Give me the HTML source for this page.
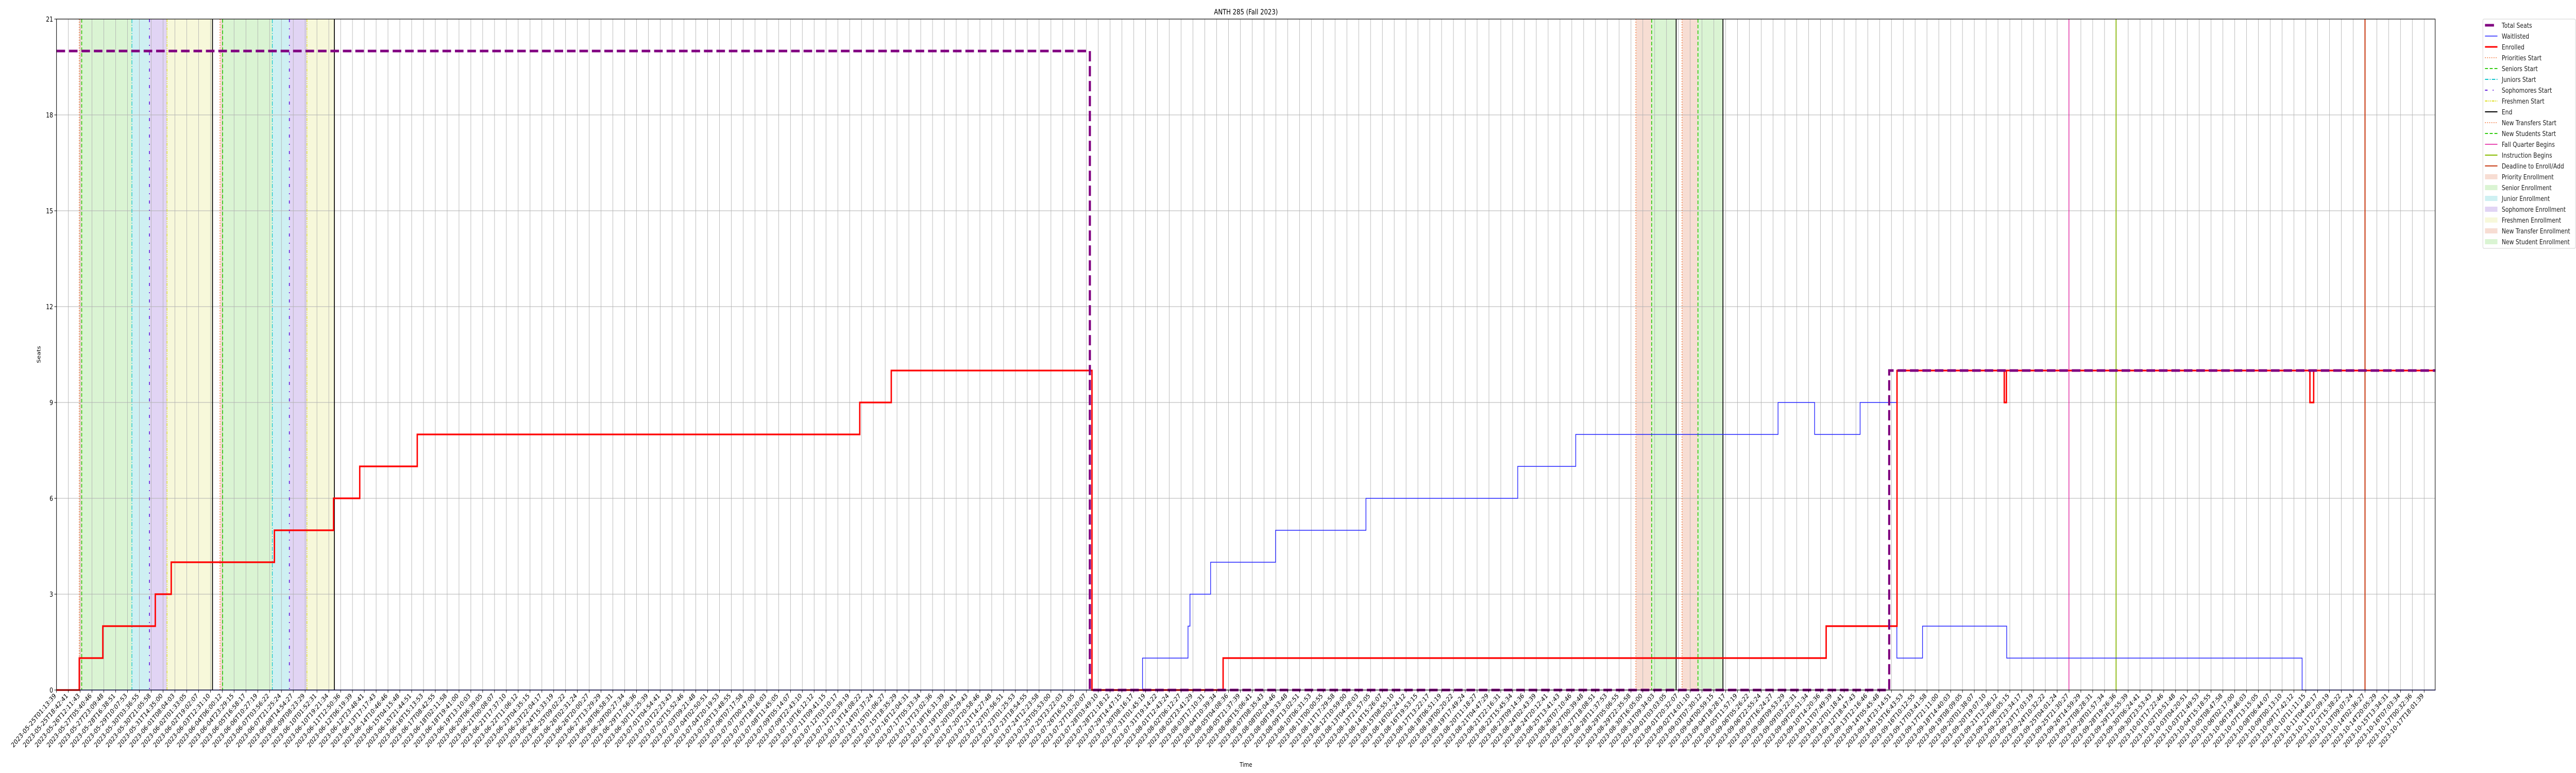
<!DOCTYPE html>
<html><head><meta charset="utf-8">
<style>
html,body{margin:0;padding:0;background:#fff;width:100%;height:100%;overflow:hidden;}
svg{display:block;position:absolute;left:0;top:0;width:100vw;height:100vh;font-family:"DejaVu Sans","Liberation Sans",sans-serif;}
</style></head>
<body>
<svg id="chart" viewBox="0 0 6000 1500" preserveAspectRatio="none" xmlns="http://www.w3.org/2000/svg" overflow="hidden">
<rect x="0" y="0" width="6000" height="1500" fill="#fff"/>
<g id="bands"></g>
<g id="grid"></g>
<g id="vlines"></g>
<g id="series"></g>
<g id="axes"></g>
<text x="2902" y="28" font-size="14" text-anchor="middle">ANTH 285 (Fall 2023)</text>
<text x="2902" y="1488" font-size="12" text-anchor="middle">Time</text>
<text x="94" y="688" font-size="12" text-anchor="middle" transform="rotate(-90 94 688)">Seats</text>
<g id="legend"></g>
</svg>
<script>
// ---- data (x in days since 2023-05-25T01:13:39) ----
const enrolledX = [0, 1.40, 2.85, 6.08, 7.06, 13.41, 17.05, 18.66, 22.20, 49.43, 51.37, 63.72, 71.79, 108.9, 113.26, 119.86, 119.99, 138.67, 138.9];
const enrolledY = [0, 1, 2, 3, 4, 5, 6, 7, 8, 9, 10, 0, 1, 2, 10, 9, 10, 9, 10];
const waitX = [0, 66.83, 69.63, 69.75, 71.02, 75.02, 80.58, 89.92, 93.49, 105.94, 108.19, 110.99, 113.25, 114.83, 120.01, 138.19];
const waitY = [0, 1, 2, 3, 4, 5, 6, 7, 8, 9, 8, 9, 1, 2, 1, 0];
const seatsX = [0, 63.59, 112.78];
const seatsY = [20, 0, 10];
const endDay = 146.4;
const prioStart = [1.40, 10.06];
const seniorStart = [1.55, 10.22];
const juniorStart = [4.64, 13.28];
const sophStart = [5.72, 14.33];
const freshStart = [6.80, 15.41];
const endLines = [9.60, 17.10, 99.67, 102.55];
const transferStart = [97.19, 100.03];
const newStudentStart = [98.16, 101.01];
const fallBegins = [123.84];
const instrBegins = [126.74];
const deadline = [142.06];
const yTicks = [0, 3, 6, 9, 12, 15, 18, 21];
const tickCount = 201;
const tickStepDays = 0.7285;

// ---- scales ----
const X0 = 131.6, PXDAY = 37.85, RIGHT = 5672, TOP = 37, BOT = 1339, PXUNIT = 62;
function xs(d){ return X0 + d * PXDAY; }
function ys(v){ return BOT - v * PXUNIT; }
const NS = "http://www.w3.org/2000/svg";
function mk(tag, attrs, parent){ const e = document.createElementNS(NS, tag); for (const k in attrs) e.setAttribute(k, attrs[k]); parent.appendChild(e); return e; }
const gB = document.getElementById('bands'), gG = document.getElementById('grid'), gV = document.getElementById('vlines'),
      gS = document.getElementById('series'), gA = document.getElementById('axes'), gL = document.getElementById('legend');

// ---- bands ----
function band(a, b, color, name){
  const r = mk('rect', {x: xs(a), y: TOP, width: xs(b) - xs(a), height: BOT - TOP, fill: color}, gB);
  
  
}
for (let i = 0; i < 2; i++){
  band(prioStart[i], seniorStart[i], '#f7ddd3', 'priority-enrollment-band');
  band(seniorStart[i], juniorStart[i], '#daf4d3', 'senior-enrollment-band');
  band(juniorStart[i], sophStart[i], '#cef0f2', 'junior-enrollment-band');
  band(sophStart[i], freshStart[i], '#e1d4f4', 'sophomore-enrollment-band');
  band(freshStart[i], endLines[i], '#f7f8da', 'freshmen-enrollment-band');
  band(transferStart[i], newStudentStart[i], '#f7ddd3', 'new-transfer-enrollment-band');
  band(newStudentStart[i], endLines[i + 2], '#daf4d3', 'new-student-enrollment-band');
}

// ---- grid + ticks ----
const t0 = Date.UTC(2023, 4, 25, 1, 13, 39);
function pad(n){ return (n < 10 ? '0' : '') + n; }
for (let i = 0; i < tickCount; i++){
  const d = i * tickStepDays, x = xs(d);
  const gl = mk('line', {x1: x, x2: x, y1: TOP, y2: BOT, stroke: '#b0b0b0', 'stroke-width': 1}, gG);
  
  
  mk('line', {x1: x, x2: x, y1: BOT, y2: BOT + 5, stroke: '#000', 'stroke-width': 1}, gA);
  const dt = new Date(t0 + d * 86400000);
  const lab = dt.getUTCFullYear() + '-' + pad(dt.getUTCMonth() + 1) + '-' + pad(dt.getUTCDate()) + 'T' + pad(dt.getUTCHours()) + ':' + pad(dt.getUTCMinutes()) + ':' + pad(dt.getUTCSeconds());
  const t = mk('text', {x: x, y: BOT + 12, 'font-size': 13, 'text-anchor': 'end', transform: 'rotate(-45 ' + x + ' ' + (BOT + 12) + ')'}, gA);
  t.textContent = lab;
  
  
}
yTicks.forEach(v => {
  const y = ys(v);
  const gl = mk('line', {x1: X0, x2: RIGHT, y1: y, y2: y, stroke: '#b0b0b0', 'stroke-width': 1}, gG);
  
  
  mk('line', {x1: X0 - 5, x2: X0, y1: y, y2: y, stroke: '#000', 'stroke-width': 1}, gA);
  const t = mk('text', {x: X0 - 8, y: y + 5, 'font-size': 13, 'text-anchor': 'end'}, gA);
  t.textContent = v;
  
  
});
mk('rect', {x: X0, y: TOP, width: RIGHT - X0, height: BOT - TOP, fill: 'none', stroke: '#000', 'stroke-width': 1.2}, gA);

// ---- vertical event lines ----
function vline(d, color, w, dash, name){
  const l = mk('line', {x1: xs(d), x2: xs(d), y1: TOP, y2: BOT, stroke: color, 'stroke-width': w}, gV);
  if (dash) l.setAttribute('stroke-dasharray', dash);
  
  
}
prioStart.forEach(d => vline(d, '#f26b2a', 1.5, '2,3', 'priorities-start-line'));
seniorStart.forEach(d => vline(d, '#33cc11', 2, '7,4', 'seniors-start-line'));
juniorStart.forEach(d => vline(d, '#11c4cc', 1.5, '8,3,2,3', 'juniors-start-line'));
sophStart.forEach(d => vline(d, '#6622dd', 2, '6,12,2,12', 'sophomores-start-line'));
freshStart.forEach(d => vline(d, '#dddd22', 1.5, '6,2,2,2,2,2', 'freshmen-start-line'));
endLines.forEach(d => vline(d, '#000', 2, null, 'end-line'));
transferStart.forEach(d => vline(d, '#f26b2a', 1.5, '2,3', 'new-transfers-start-line'));
newStudentStart.forEach(d => vline(d, '#33cc11', 2, '7,4', 'new-students-start-line'));
fallBegins.forEach(d => vline(d, '#e0109a', 1.5, null, 'fall-quarter-begins-line'));
instrBegins.forEach(d => vline(d, '#88bb00', 2, null, 'instruction-begins-line'));
deadline.forEach(d => vline(d, '#c83c14', 2.5, null, 'deadline-line'));

// ---- step series ----
function stepPath(xsArr, ysArr){
  let p = 'M' + xs(xsArr[0]) + ',' + ys(ysArr[0]);
  for (let i = 1; i < xsArr.length; i++){
    p += ' H' + xs(xsArr[i]) + ' V' + ys(ysArr[i]);
  }
  p += ' H' + xs(endDay);
  return p;
}
const pw = mk('path', {d: stepPath(waitX, waitY), fill: 'none', stroke: '#2222ff', 'stroke-width': 1.6}, gS);


const pe = mk('path', {d: stepPath(enrolledX, enrolledY), fill: 'none', stroke: '#ff0000', 'stroke-width': 3.2}, gS);


const ps = mk('path', {d: stepPath(seatsX, seatsY), fill: 'none', stroke: '#800080', 'stroke-width': 5, 'stroke-dasharray': '20,9'}, gS);



// ---- legend ----
const LX = 5783, LY = 37;
const lb = mk('rect', {x: LX, y: LY, width: 216, height: 445, rx: 3, fill: '#fff', stroke: '#d0d0d0', 'stroke-width': 1}, gL);


const legendItems = [
  ['Total Seats','line','#800080',5,'20,9'],
  ['Waitlisted','line','#2222ff',1.5,null],
  ['Enrolled','line','#ff0000',3,null],
  ['Priorities Start','line','#f26b2a',1.5,'2,3'],
  ['Seniors Start','line','#33cc11',2,'7,4'],
  ['Juniors Start','line','#11c4cc',2,'8,3,2,3'],
  ['Sophomores Start','line','#6622dd',2,'6,12,2,12'],
  ['Freshmen Start','line','#dddd22',2,'6,2,2,2,2,2'],
  ['End','line','#000',2,null],
  ['New Transfers Start','line','#f26b2a',1.5,'2,3'],
  ['New Students Start','line','#33cc11',2,'7,4'],
  ['Fall Quarter Begins','line','#e0109a',1.5,null],
  ['Instruction Begins','line','#88bb00',2,null],
  ['Deadline to Enroll/Add','line','#c83c14',2,null],
  ['Priority Enrollment','patch','#f7ddd3'],
  ['Senior Enrollment','patch','#daf4d3'],
  ['Junior Enrollment','patch','#cef0f2'],
  ['Sophomore Enrollment','patch','#e1d4f4'],
  ['Freshmen Enrollment','patch','#f7f8da'],
  ['New Transfer Enrollment','patch','#f7ddd3'],
  ['New Student Enrollment','patch','#daf4d3']
];
legendItems.forEach((it, i) => {
  const cy = LY + 12 + i * 21;
  const g = mk('g', {}, gL);
  
  
  if (it[1] === 'line'){
    const l = mk('line', {x1: LX + 5, x2: LX + 34, y1: cy, y2: cy, stroke: it[2], 'stroke-width': it[3]}, g);
    if (it[4]) l.setAttribute('stroke-dasharray', it[0] === 'Total Seats' ? '21,9' : it[4]);
  } else {
    mk('rect', {x: LX + 5, y: cy - 5, width: 29, height: 10, fill: it[2]}, g);
  }
  const t = mk('text', {x: LX + 44, y: cy + 5, 'font-size': 13, fill: '#222'}, g);
  t.textContent = it[0];
});
</script>
</body></html>
